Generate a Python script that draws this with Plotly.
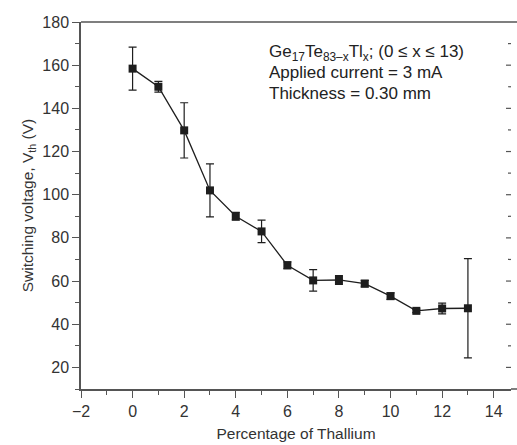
import plotly.graph_objects as go

# Thallium content (at.%) and switching voltage measurements
thallium_pct = [0, 1, 2, 3, 4, 5, 6, 7, 8, 9, 10, 11, 12, 13]
switching_v = [158.4, 150.0, 129.8, 102.0, 90.0, 83.0, 67.3, 60.3, 60.5, 58.8, 53.0, 46.2, 47.3, 47.4]
error_v = [10.0, 2.5, 12.8, 12.3, 1.8, 5.2, 1.6, 5.0, 2.0, 1.5, 1.5, 0.8, 2.5, 23.0]

# right-hand tick column (values on the voltage axis)
right_ticks = [20, 30, 40, 50, 60, 70, 80, 90, 100, 110, 120, 130, 140, 150, 160, 170]

INK = "#1e1e1e"
TXT = "#333333"
AX = "#555555"
FONT = "Liberation Sans, Arial, sans-serif"

W, H = 517, 445
ML, MR, MT, MB = 81, 6, 22, 56
plot_w = W - ML - MR

fig = go.Figure()
fig.add_trace(go.Scatter(
    x=thallium_pct, y=switching_v,
    mode="lines+markers",
    line=dict(color=INK, width=1.3),
    marker=dict(symbol="square", size=8, color=INK),
    error_y=dict(type="data", array=error_v, visible=True,
                 color=INK, thickness=1.2, width=4),
    showlegend=False,
))

axis_common = dict(
    showline=True, linecolor=AX, linewidth=1.5,
    ticks="outside", ticklen=7, tickwidth=1.3, tickcolor=AX,
    showgrid=False, zeroline=False,
    tickfont=dict(family=FONT, size=16, color=TXT),
)

fig.update_layout(
    width=W, height=H,
    margin=dict(l=ML, r=MR, t=MT, b=MB),
    plot_bgcolor="white", paper_bgcolor="white",
    font=dict(family=FONT, color=TXT),
    xaxis=dict(
        range=[-2, 14.67], tick0=-2, dtick=2,
        minor=dict(dtick=1, ticks="outside", ticklen=4, tickcolor=AX),
        title=dict(text="Percentage of Thallium", font=dict(family=FONT, size=15.5, color=TXT), standoff=9),
        **axis_common,
    ),
    yaxis=dict(
        range=[10, 180], tick0=0, dtick=20,
        minor=dict(dtick=10, ticks="outside", ticklen=4, tickcolor=AX),
        title=dict(text="Switching voltage, V<sub>th</sub> (V)",
                   font=dict(family=FONT, size=15.5, color=TXT), standoff=5),
        **axis_common,
    ),
)

# top border line and bottom axis line, carried on to the page edge
edge = 1 + MR / plot_w
fig.add_shape(type="line", xref="paper", yref="paper", x0=0, x1=edge, y0=1, y1=1,
              line=dict(color=AX, width=1.5))
fig.add_shape(type="line", xref="paper", yref="paper", x0=1, x1=edge, y0=0, y1=0,
              line=dict(color=AX, width=1.5))

# inward ticks along the right border
for v in right_ticks:
    tick_px = 5 if v % 20 == 0 else 3
    fig.add_shape(
        type="line", xref="paper", yref="y",
        x0=1 - tick_px / plot_w, x1=1, y0=v, y1=v,
        line=dict(color=AX, width=1.2),
    )

# annotation block, one line at a time
note_lines = [
    "Ge<sub>17</sub>Te<sub>83\u2013x</sub>Tl<sub>x</sub>; (0 \u2264 x \u2264 13)",
    "Applied current = 3 mA",
    "Thickness = 0.30 mm",
]
note_y = [0.916, 0.862, 0.806]
for line, yy in zip(note_lines, note_y):
    fig.add_annotation(
        xref="paper", yref="paper", x=0.433, y=yy,
        xanchor="left", yanchor="middle", align="left", showarrow=False,
        text=line, font=dict(family=FONT, size=17, color="#222"),
    )

fig.write_html("out.html")
